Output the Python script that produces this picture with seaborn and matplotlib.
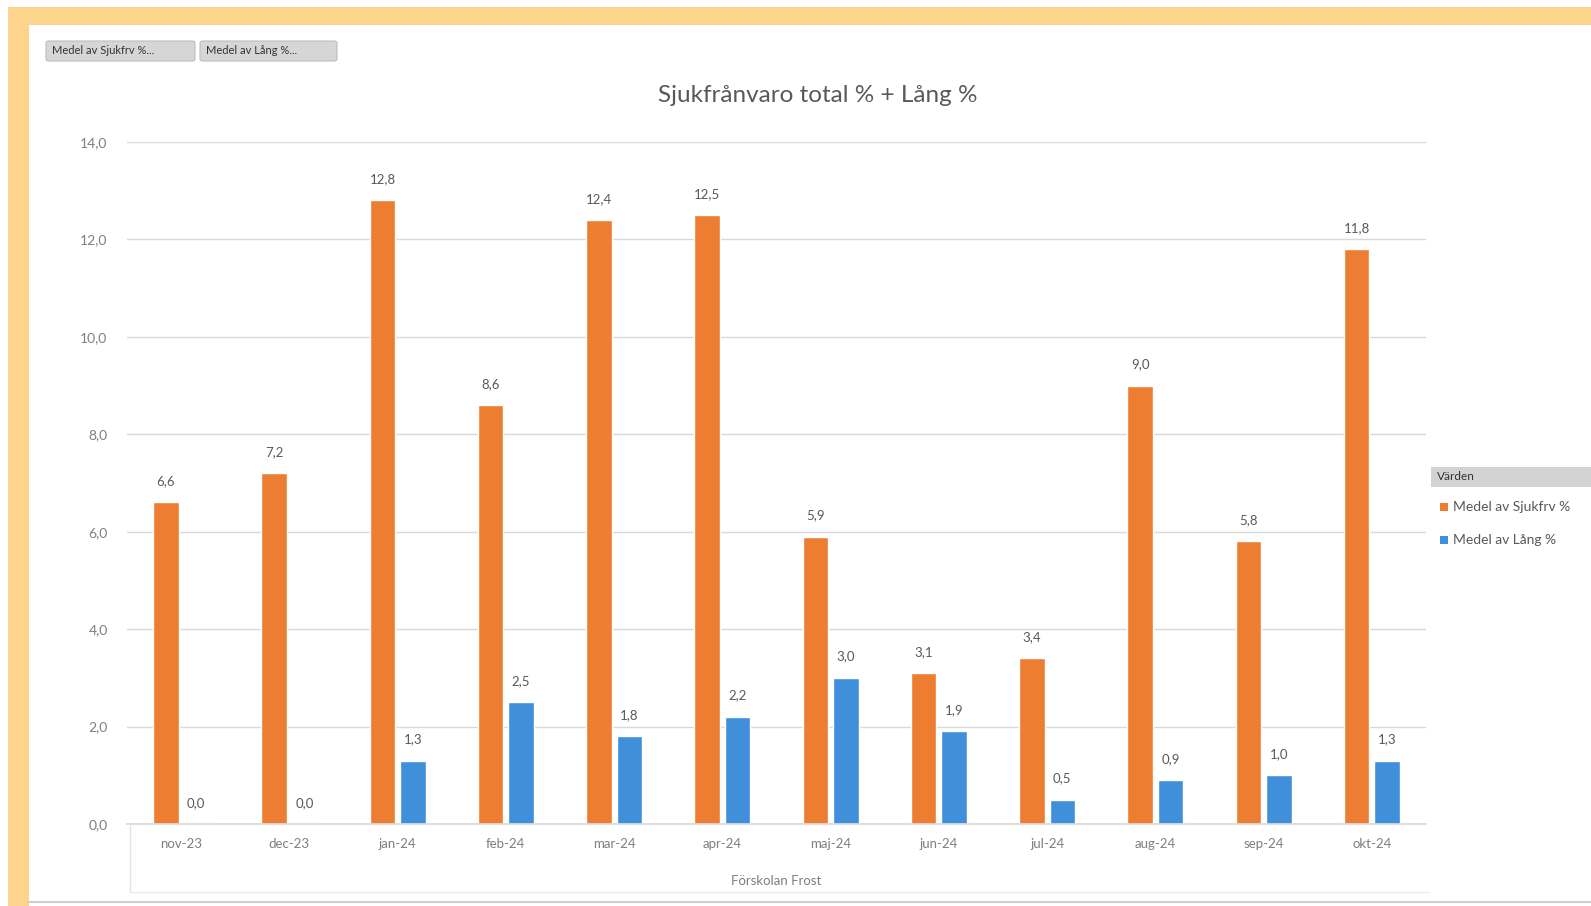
import matplotlib
matplotlib.use("Agg")
import matplotlib.pyplot as plt
from matplotlib.patches import Rectangle, FancyBboxPatch
from matplotlib.lines import Line2D
import pandas as pd
import seaborn as sns

# --- data -------------------------------------------------------------
months = ["nov-23", "dec-23", "jan-24", "feb-24", "mar-24", "apr-24",
          "maj-24", "jun-24", "jul-24", "aug-24", "sep-24", "okt-24"]
sjukfrv = [6.6, 7.2, 12.8, 8.6, 12.4, 12.5, 5.9, 3.1, 3.4, 9.0, 5.8, 11.8]
lang = [0.0, 0.0, 1.3, 2.5, 1.8, 2.2, 3.0, 1.9, 0.5, 0.9, 1.0, 1.3]
series_names = ["Medel av Sjukfrv %", "Medel av Lång %"]
field_buttons = ["Medel av Sjukfrv %...", "Medel av Lång %..."]
y_ticks = [0, 2, 4, 6, 8, 10, 12, 14]
title = "Sjukfrånvaro total % + Lång %"
x_title = "Förskolan Frost"
legend_title = "Värden"

ORANGE = "#ED7D31"
BLUE = "#3F8FDA"
TEXT = "#595959"
GRID = "#D9D9D9"

df = pd.DataFrame({
    "Månad": months * 2,
    "Värde": sjukfrv + lang,
    "Serie": [series_names[0]] * len(months) + [series_names[1]] * len(months),
})

sns.set_theme(style="white")
plt.rcParams["font.family"] = ["Lato", "DejaVu Sans"]

W, H = 1591, 906
fig = plt.figure(figsize=(W / 100, H / 100), dpi=100)
fig.patch.set_facecolor("white")


def fx(px):
    return px / W


def fy(py):
    return 1 - py / H


# frame of the surrounding sheet
fig.patches.append(Rectangle((fx(8), 0), fx(21), fy(7), transform=fig.transFigure,
                             facecolor="#FDD48B", edgecolor="none", zorder=0))
fig.patches.append(Rectangle((fx(8), fy(25)), 1 - fx(8), fy(7) - fy(25),
                             transform=fig.transFigure, facecolor="#FDD48B",
                             edgecolor="none", zorder=0))

ax = fig.add_axes([fx(127), fy(824), fx(1426) - fx(127), fy(142) - fy(824)])
ax.set_facecolor("white")

sns.barplot(data=df, x="Månad", y="Värde", hue="Serie", order=months,
            hue_order=series_names, palette=[ORANGE, BLUE], width=0.56,
            gap=0.16, saturation=1, legend=False, ax=ax, errorbar=None)

for container, values in zip(ax.containers, [sjukfrv, lang]):
    ax.bar_label(container, labels=[f"{v:.1f}".replace(".", ",") for v in values],
                 padding=11, fontsize=9.5, color=TEXT)

ax.set_ylim(0, 14)
ax.set_xlim(-0.5, len(months) - 0.5)
ax.set_yticks(y_ticks)
ax.set_yticklabels([f"{t:.1f}".replace(".", ",") for t in y_ticks])
ax.yaxis.grid(True, color=GRID, linewidth=1)
ax.set_axisbelow(True)
for side in ["left", "right", "top"]:
    ax.spines[side].set_visible(False)
ax.spines["bottom"].set_color(GRID)
ax.tick_params(axis="y", length=0, pad=14, labelsize=10, labelcolor="#7F7F7F")
ax.tick_params(axis="x", length=0, pad=10, labelsize=9.5, labelcolor="#7F7F7F")
ax.set_xlabel("")
ax.set_ylabel("")

# chart title and axis field label
fig.text(fx(818), fy(96), title, ha="center", va="center", fontsize=17.5, color=TEXT)
fig.text(fx(776), fy(881), x_title, ha="center", va="center", fontsize=9.5,
         color="#7F7F7F")

# box around the category field area
fig.add_artist(Line2D([fx(130), fx(130)], [fy(824), fy(892)],
                      transform=fig.transFigure, color="#E3E3E3", linewidth=1))
fig.add_artist(Line2D([fx(130), fx(1430)], [fy(892), fy(892)],
                      transform=fig.transFigure, color="#EDEDED", linewidth=1))
fig.add_artist(Line2D([fx(28), fx(1591)], [fy(902), fy(902)],
                      transform=fig.transFigure, color="#CFCFCF", linewidth=1.5))

# pivot field buttons
for (x0, x1), label in zip([(46, 195), (200, 337)], field_buttons):
    fig.patches.append(FancyBboxPatch((fx(x0), fy(61)), fx(x1 - x0), fy(41) - fy(61),
                                      boxstyle="round,pad=0,rounding_size=0.002",
                                      transform=fig.transFigure, facecolor="#D6D6D6",
                                      edgecolor="#BDBDBD", linewidth=0.8))
    fig.text(fx(x0 + 6), fy(51), label, ha="left", va="center", fontsize=8,
             color="#333333")

# legend with field header
fig.patches.append(Rectangle((fx(1431), fy(487)), 1 - fx(1431), fy(467) - fy(487),
                             transform=fig.transFigure, facecolor="#D3D3D3",
                             edgecolor="none"))
fig.text(fx(1437), fy(477), legend_title, ha="left", va="center", fontsize=8.5,
         color="#333333")
for yy, color, label in zip([507, 540], [ORANGE, BLUE], series_names):
    fig.patches.append(Rectangle((fx(1440), fy(yy + 4)), fx(8), fy(yy - 4) - fy(yy + 4),
                                 transform=fig.transFigure, facecolor=color,
                                 edgecolor="none"))
    fig.text(fx(1453), fy(yy), label, ha="left", va="center", fontsize=10,
             color=TEXT)

fig.savefig("out.png", dpi=100, facecolor="white")
